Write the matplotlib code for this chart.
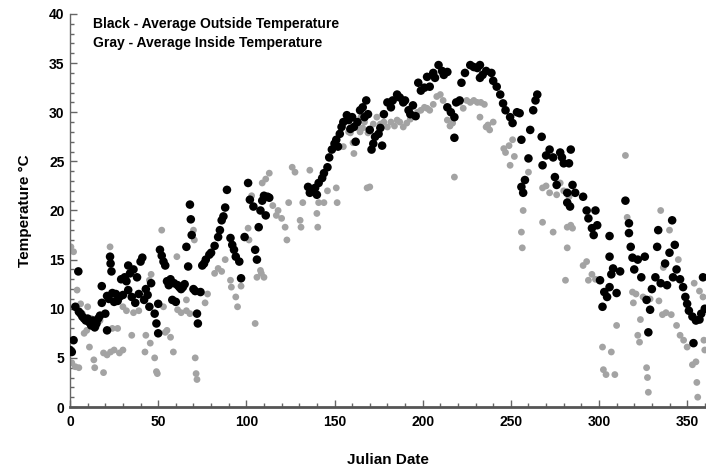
import matplotlib
matplotlib.use("Agg")
import matplotlib.pyplot as plt
from matplotlib.ticker import MultipleLocator

plt.rcParams['font.family'] = ['Liberation Sans', 'DejaVu Sans']
plt.rcParams['font.weight'] = 'bold'

# black - average outside temperature (day, deg C)
out_day = [0, 1, 2, 3, 4.7, 5, 6, 7, 8, 9, 10, 11, 12, 13, 14, 15, 16, 17, 18, 18,
           20, 21, 21, 22, 22.7, 23, 23.5, 24, 25, 26, 27, 28, 29, 30, 31, 32, 33, 33,
           34, 35, 36, 37, 38, 39, 40, 41, 42, 43, 44, 45, 46, 48, 49, 50, 50, 51, 52,
           53, 54, 55, 56, 57, 58, 59, 60, 61, 62, 63, 64, 65, 66, 67, 68, 68.5, 69,
           70, 71, 72, 72.5, 74, 75, 76, 77, 79, 80, 82, 84, 85, 86, 87, 88, 89, 91,
           92, 93, 94, 96, 97, 99, 101, 102, 104, 105, 106, 107, 108, 109, 110, 111,
           112, 113, 135, 136, 137, 139, 140, 141, 143, 144, 146, 147, 148.5, 150,
           151, 152, 153, 154, 155, 157, 158, 159, 160, 161, 162, 163, 164.5, 166,
           168, 167, 169, 170, 171, 172, 173, 175, 176, 177, 178, 180, 182, 183,
           185.5, 187, 189, 190, 192, 193, 194.5, 196, 197.5, 199, 201, 202.5, 204,
           206, 207, 209, 211, 212, 214, 214, 216, 218, 218, 219, 221, 222, 224, 227,
           229, 231, 232.5, 232.5, 234, 236, 239, 240, 242, 244, 245.6, 247, 249.6,
           251, 253.5, 255, 256, 256, 257, 258, 260, 261, 262.7, 264, 265, 267.5, 268,
           270, 272, 274, 275, 276, 278, 279, 280, 282, 282, 283.6, 283, 284, 285,
           286.5, 291, 293, 294, 296, 297, 298, 299, 300.6, 302, 303, 304.6, 306, 306,
           306, 307, 308, 310, 312, 315, 317, 317, 318, 319, 320, 322, 324, 326, 327,
           328, 329, 330, 332, 333, 333.6, 335, 337.5, 338.6, 340, 341.5, 342, 343,
           344, 346, 347.7, 349, 350, 351, 353, 353.6, 355, 357, 358, 359, 360]
out_temp = [5.8, 5.6, 6.8, 10.2, 13.8, 9.7, 9.5, 9.2, 9.0, 8.8, 9.0, 8.6, 8.3, 8.8, 8.1, 8.5, 9.0, 9.3, 10.6, 12.3,
            9.5, 7.8, 11.3, 11.0, 15.3, 14.6, 13.8, 11.6, 10.7, 11.5, 10.8, 11.2, 13.0, 11.4, 13.2, 12.8, 14.4, 11.9,
            13.6, 11.2, 14.0, 10.6, 13.2, 11.5, 14.8, 15.2, 10.9, 12.0, 11.4, 10.2, 12.6, 9.5, 8.5, 7.5, 10.5, 16.0, 15.4,
            14.8, 14.4, 12.8, 12.4, 13.0, 10.9, 12.6, 10.7, 12.4, 12.2, 12.0, 12.2, 12.5, 16.3, 14.3, 20.6, 19.1, 17.5,
            12.0, 11.8, 9.5, 8.5, 11.7, 14.4, 14.6, 15.0, 15.5, 15.7, 16.4, 17.3, 18.0, 19.0, 19.4, 20.3, 22.1, 17.2,
            16.5, 16.0, 15.3, 14.8, 13.1, 17.3, 22.8, 21.1, 20.4, 16.0, 15.0, 18.3, 20.0, 21.0, 21.5, 19.5,
            21.4, 21.3, 22.4, 21.8, 22.0, 22.3, 21.6, 22.8, 23.3, 23.8, 24.4, 25.4, 26.2, 26.8,
            27.2, 26.5, 27.8, 28.5, 29.0, 29.7, 29.2, 28.3, 29.5, 28.5, 27.0, 29.0, 30.2, 30.5,
            31.2, 29.5, 29.8, 28.2, 26.2, 26.8, 27.5, 27.8, 28.4, 26.6, 29.8, 31.0, 30.5, 31.2,
            31.8, 31.5, 31.0, 31.2, 30.2, 29.8, 30.7, 29.6, 33.0, 32.2, 32.5, 33.6, 32.6,
            34.0, 33.5, 34.8, 34.2, 33.8, 34.1, 30.5, 30.0, 29.5, 27.4, 31.0, 31.2, 33.0, 34.0, 34.8,
            34.6, 34.5, 34.8, 33.5, 33.8, 34.2, 34.0, 33.2, 32.6, 31.8, 30.9, 30.2, 29.5,
            28.9, 30.0, 29.9, 27.2, 22.4, 21.8, 23.1, 25.3, 28.2, 30.2, 31.2, 31.8, 27.5, 24.6,
            25.6, 26.2, 25.4, 23.4, 22.6, 25.9, 25.4, 24.8, 21.8, 20.8, 20.4, 24.8, 26.2, 22.6,
            21.8, 21.4, 20.0, 19.2, 18.2, 17.5, 20.0, 18.5, 12.9, 10.2, 11.7, 11.2, 15.3, 12.2,
            17.4, 13.5, 14.1, 11.6, 13.8, 21.0, 18.7, 17.7, 16.3, 15.2, 14.0, 15.0, 13.2, 15.3, 10.9,
            7.6, 9.9, 12.0, 13.2, 16.3, 18.0, 12.6, 14.6, 12.4, 15.7, 19.0, 13.2, 16.5,
            14.0, 13.0, 12.2, 11.2, 10.5, 9.8, 9.2, 6.5, 8.8, 8.9, 9.5, 13.2, 10.0]

# gray - average inside temperature
in_day = [0.5, 1, 2, 3, 4, 5, 6, 7, 8, 9.5, 10, 11, 12, 13.5, 14, 15, 17, 19, 19, 21,
          22.7, 23, 24, 25, 27, 28, 30, 30, 32, 35, 36, 39, 42.5, 43, 45, 45.5, 46, 48,
          49, 49.5, 52, 53, 54, 55, 57, 58.6, 60.6, 61, 63, 66, 66, 68, 70, 70.5, 71,
          71.5, 72, 76.6, 78, 82, 84, 86, 88, 91, 91.5, 94, 95, 97, 101, 101.5, 103,
          105, 106, 108, 108.5, 110, 109, 111, 113, 115, 117, 118, 120, 122, 123, 124,
          126, 127.6, 130.5, 131, 132, 136, 140, 140.5, 141, 144, 146, 151, 151.5, 155,
          158, 159, 160.5, 161, 163, 164.5, 166, 168.5, 165, 167, 169, 170, 172, 174,
          176, 178, 180, 182, 184, 185.5, 187, 189, 191, 193, 195, 197, 199, 201, 202.5,
          204, 206, 208, 210, 211.6, 214, 215.5, 217, 218, 221, 223, 225, 227, 229, 231,
          232.5, 233, 235, 236, 237, 238, 240, 246, 247, 249, 249.6, 251, 252, 256,
          256.5, 257, 260, 268, 268, 270, 272, 274, 276, 278, 280, 281, 282, 282, 283,
          284, 285, 291, 293, 294, 296, 298, 302, 302.5, 304, 307, 309, 310, 315, 316,
          319, 319.5, 321, 322, 323, 323.5, 325, 327, 327.5, 328, 329, 334, 335, 336,
          336.5, 338, 340, 341, 344, 345, 346, 348, 350, 353, 354, 355, 355.5, 356,
          357, 359, 359.5, 360]
in_temp = [16.3, 4.5, 15.8, 4.1, 11.9, 4.0, 10.5, 9.5, 7.5, 7.8, 10.2, 6.1, 9.0, 4.8, 4.0, 8.2, 8.8, 3.5, 5.5, 5.3,
           16.3, 5.6, 8.0, 5.8, 8.0, 5.5, 10.2, 5.8, 9.8, 7.3, 9.6, 9.8, 5.6, 7.3, 12.9, 6.5, 13.5, 5.0,
           3.6, 3.4, 18.0, 10.2, 7.6, 7.8, 7.1, 5.6, 15.3, 9.9, 9.6, 10.9, 9.8, 9.5, 18.0, 17.0, 5.0,
           3.4, 2.8, 10.6, 11.5, 13.6, 14.1, 13.8, 15.0, 12.9, 12.2, 11.2, 10.2, 12.3, 18.2, 17.0, 21.5,
           8.5, 13.2, 13.9, 13.6, 13.2, 22.8, 23.2, 23.8, 20.5, 19.5, 20.0, 19.2, 18.3, 17.0, 20.8,
           24.4, 23.9, 19.0, 18.3, 20.8, 24.1, 19.7, 18.3, 20.8, 20.8, 22.0, 22.3, 20.8, 26.5,
           28.0, 27.9, 26.9, 25.8, 28.5, 28.0, 28.4, 22.3, 29.5, 29.0, 27.9, 22.4, 28.8, 29.5,
           28.8, 29.0, 28.5, 29.0, 28.6, 29.2, 29.0, 28.5, 28.9, 29.3, 29.6, 30.0, 30.2, 30.5, 30.4,
           30.2, 30.8, 31.6, 31.8, 31.2, 29.2, 28.6, 28.9, 23.4, 31.0, 30.4, 31.2, 31.0, 31.2, 31.0,
           29.5, 31.0, 30.8, 28.5, 28.7, 28.2, 29.0, 26.3, 25.9, 26.6, 24.6, 27.2, 25.5, 17.8,
           16.2, 20.0, 23.9, 22.3, 18.8, 22.5, 21.8, 17.8, 21.6, 22.8, 22.0, 12.9, 18.3, 16.2, 21.4,
           18.5, 18.2, 14.4, 14.8, 12.9, 13.5, 13.0, 6.1, 3.8, 3.3, 5.6, 3.3, 8.3, 25.6, 19.3,
           11.7, 10.6, 11.5, 7.3, 6.6, 8.9, 11.2, 4.0, 3.0, 1.5, 11.0, 10.8, 20.0, 9.4,
           14.2, 9.6, 18.0, 9.4, 8.3, 15.0, 7.3, 6.8, 6.1, 4.3, 12.6, 4.6, 2.5, 1.0,
           11.8, 11.2, 6.8, 5.8]

fig = plt.figure(figsize=(7.06, 4.66), dpi=100)
ax = fig.add_axes([0.0992, 0.1266, 0.9008, 0.8434])

ax.scatter(in_day, in_temp, s=24, color='#a3a3a3', edgecolors='none', zorder=2)
ax.scatter(out_day, out_temp, s=38, color='black', edgecolors='none', zorder=3)

ax.set_xlim(0, 360.7)
ax.set_ylim(0, 40)
ax.xaxis.set_major_locator(MultipleLocator(50))
ax.xaxis.set_minor_locator(MultipleLocator(10))
ax.yaxis.set_major_locator(MultipleLocator(5))
ax.yaxis.set_minor_locator(MultipleLocator(1))

for s in ['top', 'right']:
    ax.spines[s].set_visible(False)
ax.spines['left'].set_color('#666666')
ax.spines['left'].set_linewidth(1.0)
ax.spines['bottom'].set_color('#555555')
ax.spines['bottom'].set_linewidth(2.0)

ax.tick_params(which='both', direction='in', colors='#666666', labelcolor='black')
ax.tick_params(which='major', length=5, width=1)
ax.tick_params(which='minor', length=3, width=1)
ax.tick_params(axis='x', pad=6, labelsize=10)
ax.tick_params(axis='y', pad=4, labelsize=10)
for lab in ax.get_xticklabels() + ax.get_yticklabels():
    lab.set_fontweight('bold')

ax.set_xlabel('Julian Date', fontsize=11, fontweight='bold', labelpad=17)
ax.set_ylabel('Temperature \u00b0C', fontsize=11, fontweight='bold', labelpad=12)

ax.text(0.036, 0.9746, 'Black - Average Outside Temperature', transform=ax.transAxes,
        fontsize=10, fontweight='bold', va='center')
ax.text(0.036, 0.9262, 'Gray - Average Inside Temperature', transform=ax.transAxes,
        fontsize=10, fontweight='bold', va='center')

fig.savefig('out.png', dpi=100)
